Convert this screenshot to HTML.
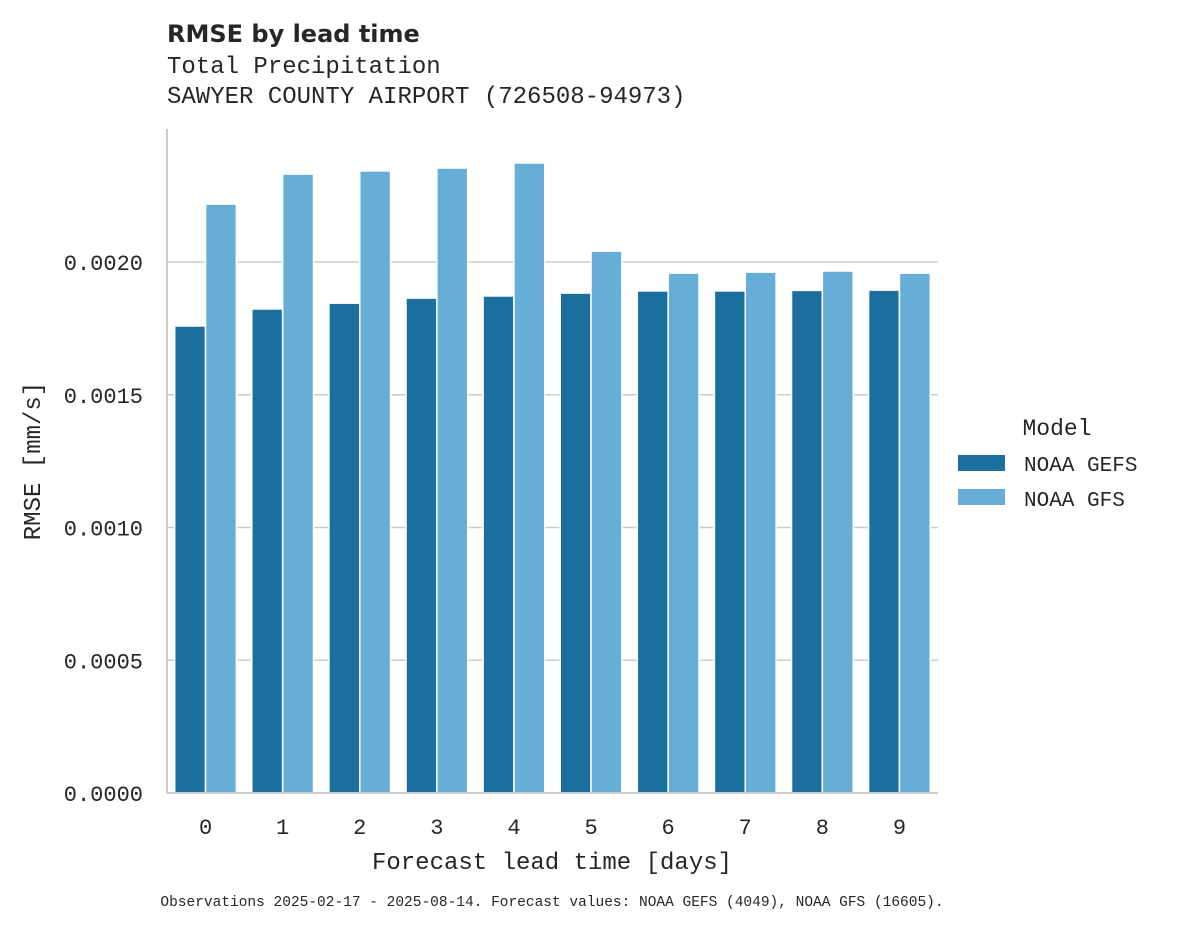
<!DOCTYPE html>
<html><head><meta charset="utf-8"><style>
body{margin:0;background:#fff;}
svg text{fill:#262626;}
</style></head><body>
<svg width="1178" height="928" xmlns="http://www.w3.org/2000/svg">
<rect width="1178" height="928" fill="#fff"/>
<text x="167" y="42" font-family="DejaVu Sans, Liberation Sans, sans-serif" font-weight="bold" font-size="24">RMSE by lead time</text>
<text x="167" y="73" font-family="Liberation Mono, monospace" font-size="24">Total Precipitation</text>
<text x="167" y="103" font-family="Liberation Mono, monospace" font-size="24">SAWYER COUNTY AIRPORT (726508-94973)</text>
<g id="grid"></g>
<g id="bars"></g>
<line x1="167" y1="129" x2="167" y2="793" stroke="#cccccc" stroke-width="2"/>
<line x1="167" y1="793" x2="938" y2="793" stroke="#cccccc" stroke-width="2"/>
<g id="yticks"></g>
<g id="xticks"></g>
<text x="40" y="461" transform="rotate(-90 40 461)" text-anchor="middle" font-family="Liberation Mono, monospace" font-size="24">RMSE [mm/s]</text>
<text x="552" y="869" text-anchor="middle" font-family="Liberation Mono, monospace" font-size="24">Forecast lead time [days]</text>
<g>
<text x="1057" y="435" text-anchor="middle" font-family="Liberation Mono, monospace" font-size="23">Model</text>
<rect x="958" y="455" width="47" height="16" fill="#1a6f9f"/>
<text x="1024" y="471" font-family="Liberation Mono, monospace" font-size="21">NOAA GEFS</text>
<rect x="958" y="489" width="47" height="16" fill="#67aed6"/>
<text x="1024" y="506" font-family="Liberation Mono, monospace" font-size="21">NOAA GFS</text>
</g>
<text x="552" y="906" text-anchor="middle" font-family="Liberation Mono, monospace" font-size="14.5">Observations 2025-02-17 - 2025-08-14. Forecast values: NOAA GEFS (4049), NOAA GFS (16605).</text>
</svg>
<script>
const categories=["0","1","2","3","4","5","6","7","8","9"];
const gefsValues=[0.001759,0.001823,0.001845,0.001864,0.001872,0.001883,0.001891,0.001891,0.001893,0.001894];
const gfsValues=[0.002218,0.002331,0.002343,0.002354,0.002373,0.002041,0.001958,0.001962,0.001966,0.001958];
const yTickValues=[0,0.0005,0.001,0.0015,0.002];
const yTickLabels=["0.0000","0.0005","0.0010","0.0015","0.0020"];
const NS="http://www.w3.org/2000/svg";
const x0=167,x1=938,yBase=793,yPerUnit=531/0.002;
const y=v=>yBase-v*yPerUnit;
const band=(x1-x0)/categories.length;
const xc=i=>x0+band*(i+0.5);
function mk(tag,attrs,parent){const e=document.createElementNS(NS,tag);for(const k in attrs)e.setAttribute(k,attrs[k]);document.getElementById(parent).appendChild(e);return e;}
yTickValues.forEach((v,i)=>{
  if(v>0){const g=mk('line',{x1:x0,x2:x1,y1:y(v),y2:y(v),stroke:'#cccccc','stroke-width':1.5},'grid');
  
  }
  const t=mk('text',{x:143,y:y(v)+8,'text-anchor':'end','font-family':'Liberation Mono, monospace','font-size':22},'yticks');
  t.textContent=yTickLabels[i];
  
  
});
const bw=band*0.8/2;
categories.forEach((c,i)=>{
  const left=xc(i)-bw;
  const b1=mk('rect',{x:left,y:y(gefsValues[i]),width:bw,height:yBase-y(gefsValues[i]),fill:'#1a6f9f',stroke:'#fff','stroke-width':1.5},'bars');
  
  
  const b2=mk('rect',{x:xc(i),y:y(gfsValues[i]),width:bw,height:yBase-y(gfsValues[i]),fill:'#67aed6',stroke:'#fff','stroke-width':1.5},'bars');
  
  
  const t=mk('text',{x:xc(i),y:834,'text-anchor':'middle','font-family':'Liberation Mono, monospace','font-size':22},'xticks');
  t.textContent=c;
  
  
});
</script>
</body></html>
